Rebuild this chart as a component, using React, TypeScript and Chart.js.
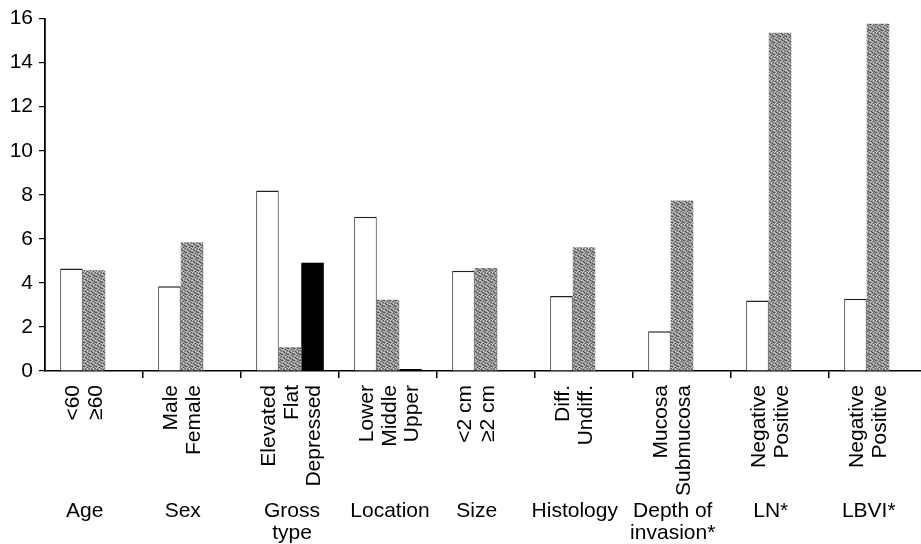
import React, { useEffect, useRef } from "react";
import { Chart, registerables } from "chart.js";

Chart.register(...registerables);

const groups = ["Age", "Sex", "Gross type", "Location", "Size", "Histology", "Depth of invasion*", "LN*", "LBVI*"];
const groupLines = [["Age"], ["Sex"], ["Gross", "type"], ["Location"], ["Size"], ["Histology"], ["Depth of", "invasion*"], ["LN*"], ["LBVI*"]];
const firstLabels = ["<60", "Male", "Elevated", "Lower", "<2 cm", "Diff.", "Mucosa", "Negative", "Negative"];
const secondLabels = ["≥60", "Female", "Flat", "Middle", "≥2 cm", "Undiff.", "Submucosa", "Positive", "Positive"];
const thirdLabels = [null, null, "Depressed", "Upper", null, null, null, null, null];
const firstValues = [4.65, 3.85, 8.2, 7.0, 4.55, 3.4, 1.8, 3.2, 3.28];
const secondValues = [4.58, 5.85, 1.08, 3.23, 4.68, 5.62, 7.74, 15.36, 15.77];
const thirdValues = [null, null, 4.92, 0.08, null, null, null, null, null];
const yTicks = [0, 2, 4, 6, 8, 10, 12, 14, 16];

const FONT = "Liberation Sans, Arial, Helvetica, sans-serif";

// texture for the grey stippled bars (d = dark dot, l = light dot, . = base grey)
const TEXTURE = [
  "d.l..d",
  ".l.d.l",
  "l..l.d",
  ".d.l..",
  "l.d..l",
  ".l..d.",
];

function makePattern(): CanvasPattern | string {
  const n = TEXTURE.length;
  const c = document.createElement("canvas");
  c.width = n;
  c.height = n;
  const g = c.getContext("2d");
  if (!g) return "#8c8c8c";
  g.fillStyle = "#8e8e8e";
  g.fillRect(0, 0, n, n);
  TEXTURE.forEach((row, y) => {
    row.split("").forEach((ch, x) => {
      if (ch === "d") {
        g.fillStyle = "#505050";
        g.fillRect(x, y, 1, 1);
      } else if (ch === "l") {
        g.fillStyle = "#c8c8c8";
        g.fillRect(x, y, 1, 1);
      }
    });
  });
  const p = g.createPattern(c, "repeat");
  return p || "#8c8c8c";
}

const labelPlugin = {
  id: "groupLabels",
  afterDraw(chart: any) {
    const ctx = chart.ctx;
    const allLabels = [firstLabels, secondLabels, thirdLabels];
    const axisY = chart.chartArea.bottom;
    ctx.save();
    ctx.fillStyle = "#000";
    ctx.font = `21px ${FONT}`;
    groups.forEach((_, i) => {
      const xs: number[] = [];
      allLabels.forEach((labs, d) => {
        const lab = labs[i];
        if (lab == null) return;
        const el = chart.getDatasetMeta(d).data[i];
        const x = el.x;
        xs.push(x);
        ctx.save();
        ctx.translate(x + 1, axisY + 14);
        ctx.rotate(-Math.PI / 2);
        ctx.textAlign = "right";
        ctx.textBaseline = "middle";
        ctx.fillText(lab, 0, 1);
        ctx.restore();
      });
      const cx = xs.reduce((a, b) => a + b, 0) / xs.length;
      ctx.textAlign = "center";
      ctx.textBaseline = "middle";
      groupLines[i].forEach((line, k) => {
        ctx.fillText(line, cx + 2, axisY + 140 + k * 22);
      });
    });
    ctx.restore();
  },
};

export default function App() {
  const ref = useRef<HTMLCanvasElement | null>(null);
  useEffect(() => {
    if (!ref.current) return;
    const gray = makePattern();
    const chart = new Chart(ref.current, {
      type: "bar",
      data: {
        labels: groups,
        datasets: [
          {
            data: firstValues,
            backgroundColor: "#ffffff",
            borderColor: "#222",
            borderWidth: { top: 1.5, left: 1, right: 1, bottom: 0 } as any,
            categoryPercentage: 0.69,
            barPercentage: 1,
          },
          {
            data: secondValues,
            backgroundColor: gray as any,
            borderColor: "#555",
            borderWidth: 0,
            categoryPercentage: 0.69,
            barPercentage: 1,
          },
          {
            data: thirdValues as any,
            backgroundColor: "#000",
            borderWidth: 0,
            categoryPercentage: 0.69,
            barPercentage: 1,
            minBarLength: 2,
          },
        ],
      },
      options: {
        animation: false,
        responsive: false,
        maintainAspectRatio: false,
        layout: { padding: { top: 18, left: 0, right: 0, bottom: 0 } },
        plugins: { legend: { display: false }, tooltip: { enabled: false } },
        scales: {
          x: {
            offset: true,
            grid: {
              offset: true,
              drawOnChartArea: false,
              drawTicks: true,
              tickLength: 7,
              color: (c: any) => (c.index === 0 ? "rgba(0,0,0,0)" : "#000"),
              lineWidth: 1.5,
            },
            border: { color: "#000", width: 1.5 },
            ticks: { display: false },
            afterFit: (s: any) => {
              s.height = 173;
            },
          },
          y: {
            min: 0,
            max: 16,
            afterBuildTicks: (s: any) => {
              s.ticks = yTicks.map((v) => ({ value: v }));
            },
            grid: { drawOnChartArea: false, drawTicks: true, tickLength: 6, color: "#000", lineWidth: 1.2 },
            border: { color: "#000", width: 1.8 },
            ticks: {
              color: "#000",
              padding: 6,
              font: { family: FONT, size: 21 },
            },
            afterFit: (s: any) => {
              s.width = 45;
            },
          },
        },
      },
      plugins: [labelPlugin],
    });
    return () => chart.destroy();
  }, []);
  return (
    <div style={{ position: "absolute", left: 0, top: 0, width: 921, height: 544, overflow: "hidden", background: "#fff" }}>
      <canvas ref={ref} width={927} height={544} style={{ width: 927, height: 544, display: "block" }} />
    </div>
  );
}
